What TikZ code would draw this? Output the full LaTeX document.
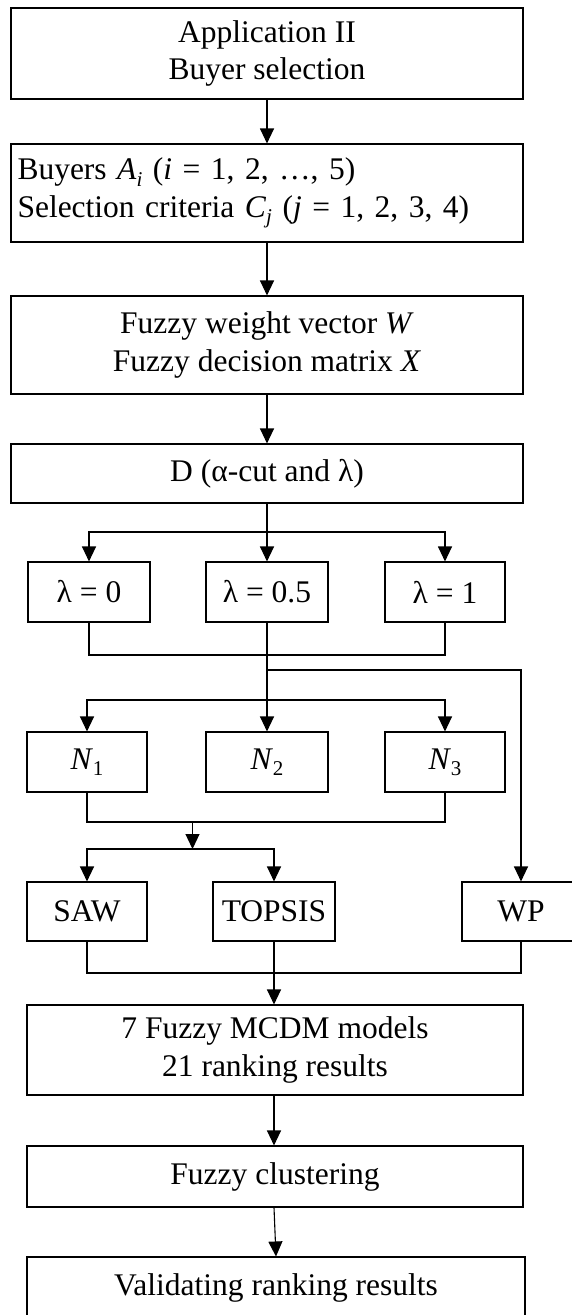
\documentclass[tikz,border=0pt]{standalone}
\usepackage{fontspec}
\setmainfont{Liberation Serif}
\usetikzlibrary{arrows.meta}
% lowered, smaller text for subscripts
\newcommand\sbs[1]{\raisebox{-0.2em}{\fontsize{21}{21}\selectfont #1}}
\begin{document}
\begin{tikzpicture}[x=1pt,y=-1pt,
  every node/.style={font=\fontsize{31.5}{37.5}\selectfont},
  box/.style={draw,line width=1.1pt,inner sep=0pt,align=center},
  line/.style={line width=1.1pt},
  arr/.style={line width=1.1pt,-{Triangle[length=15pt,width=14pt]}}]
\useasboundingbox (0,0) rectangle (571,1315);

% main column
\node[box,minimum width=512pt,minimum height=91pt] (b1) at (267,53.5)
  {Application II\\Buyer selection};
\node[box,minimum width=512pt,minimum height=98pt,text width=499pt,align=left] (b2) at (267,193)
  {Buyers \textit{A}\sbs{\textit{i}} (\textit{i} = 1, 2, …, 5)\\Selection criteria \textit{C}\sbs{\textit{j}} (\textit{j} = 1, 2, 3, 4)};
\node[box,minimum width=512pt,minimum height=98pt] (b3) at (267,345)
  {Fuzzy weight vector \textit{W}\\Fuzzy decision matrix \textit{X}};
\node[box,minimum width=512pt,minimum height=59pt] (bD) at (267,473.5)
  {D (α-cut and λ)};

% lambda values
\node[box,minimum width=122pt,minimum height=60pt] (l0) at (89,592) {λ = 0};
\node[box,minimum width=122pt,minimum height=60pt] (l5) at (267,592) {λ = 0.5};
\node[box,minimum width=120pt,minimum height=60pt] (l1) at (445,592) {λ = 1};

% normalisations
\node[box,minimum width=120pt,minimum height=60pt] (n1) at (87,762) {\textit{N}\sbs{1}};
\node[box,minimum width=122pt,minimum height=60pt] (n2) at (267,762) {\textit{N}\sbs{2}};
\node[box,minimum width=120pt,minimum height=60pt] (n3) at (445,762) {\textit{N}\sbs{3}};

% methods
\node[box,minimum width=120pt,minimum height=59pt] (saw) at (87,911.5) {SAW};
\node[box,minimum width=122pt,minimum height=59pt] (top) at (274,911.5) {TOPSIS};
\node[box,minimum width=118pt,minimum height=59pt] (wp) at (521,911.5) {WP};

% results
\node[box,minimum width=496pt,minimum height=90pt] (mc) at (275,1050)
  {7 Fuzzy MCDM models\\21 ranking results};
\node[box,minimum width=496pt,minimum height=61pt] (fc) at (275,1176.5) {Fuzzy clustering};
\node[box,minimum width=498pt,minimum height=62pt] (va) at (276,1288) {Validating ranking results};

% junction points
\coordinate (d1) at (267,532);
\coordinate (c1) at (267,655);
\coordinate (br) at (267,670);
\coordinate (d2) at (267,700);
\coordinate (c2) at (192.5,822);
\coordinate (d3) at (192.5,849);
\coordinate (c3) at (274,973);

% connectors
\draw[arr] (b1.south) -- (b2.north);
\draw[arr] (b2.south) -- (b3.north);
\draw[arr] (b3.south) -- (bD.north);
\draw[arr] (bD.south) -- (l5.north);
\draw[arr] (d1) -| (l0.north);
\draw[arr] (d1) -| (l1.north);
\draw[line] (l0.south) |- (c1) -| (l1.south);
\draw[line] (l5.south) -- (c1);
\draw[arr] (c1) -- (n2.north);
\draw[arr] (br) -| (wp.north);
\draw[arr] (d2) -| (n1.north);
\draw[arr] (d2) -| (n3.north);
\draw[line] (n1.south) |- (c2) -| (n3.south);
\draw[arr] (c2) -- (d3);
\draw[arr] (d3) -| (saw.north);
\draw[arr] (d3) -| (top.north);
\draw[line] (saw.south) |- (c3) -| (wp.south);
\draw[arr] (top.south) -- (top.south |- mc.north);
\draw[arr] (top.south |- mc.south) -- (top.south |- fc.north);
\draw[arr] (top.south |- fc.south) -- (va.north);
\end{tikzpicture}
\end{document}
